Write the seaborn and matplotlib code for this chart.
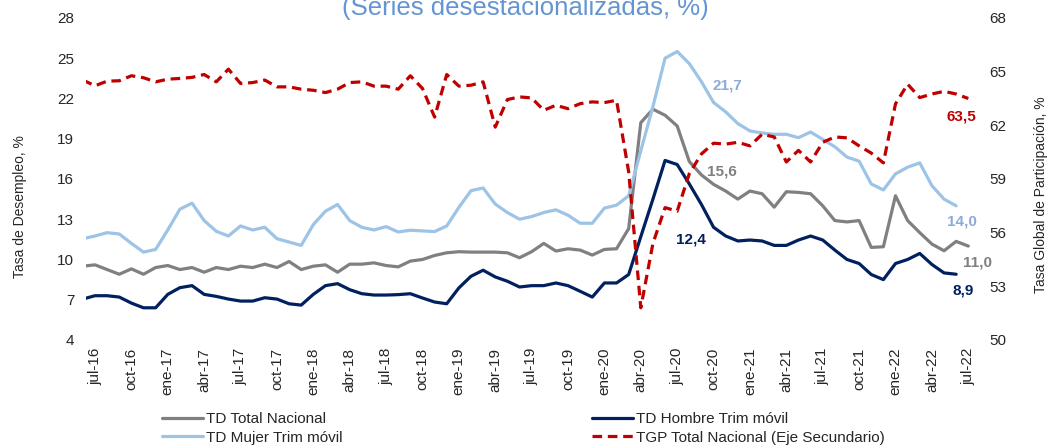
import numpy as np
import matplotlib
matplotlib.use('Agg')
import matplotlib.pyplot as plt
import seaborn as sns

# Monthly series, jun-16 .. jul-22 (trimester series end jun-22)
td_total = [9.5, 9.6, 9.25, 8.9, 9.3, 8.9, 9.4, 9.55, 9.25, 9.4, 9.05, 9.4, 9.25, 9.5,
            9.4, 9.65, 9.4, 9.85, 9.25, 9.5, 9.6, 9.05, 9.65, 9.65, 9.75, 9.55, 9.45,
            9.88, 10.0, 10.3, 10.5, 10.58, 10.55, 10.55, 10.55, 10.5, 10.13, 10.58, 11.2,
            10.63, 10.8, 10.7, 10.33, 10.75, 10.8, 12.3, 20.2, 21.2, 20.75, 19.95, 17.3,
            16.3, 15.6, 15.1, 14.5, 15.1, 14.9, 13.9, 15.05, 15.0, 14.9, 14.0, 12.9, 12.8,
            12.9, 10.9, 10.95, 14.75, 12.9, 12.0, 11.15, 10.65, 11.35, 11.0]
td_mujer = [11.55, 11.75, 12.0, 11.9, 11.2, 10.55, 10.75, 12.2, 13.75, 14.2, 12.9, 12.1,
            11.75, 12.5, 12.2, 12.4, 11.55, 11.3, 11.05, 12.6, 13.6, 14.1, 12.9, 12.4, 12.2,
            12.45, 12.05, 12.18, 12.13, 12.08, 12.5, 13.88, 15.13, 15.33, 14.13, 13.5, 13.0,
            13.2, 13.5, 13.7, 13.3, 12.7, 12.7, 13.83, 14.05, 14.75, 18.1, 21.4, 25.0, 25.5,
            24.6, 23.25, 21.7, 21.0, 20.13, 19.58, 19.43, 19.33, 19.33, 19.08, 19.5, 18.95,
            18.4, 17.63, 17.33, 15.63, 15.18, 16.38, 16.88, 17.2, 15.5, 14.5, 14.0]
td_hombre = [7.05, 7.3, 7.3, 7.2, 6.75, 6.4, 6.4, 7.4, 7.9, 8.05, 7.4, 7.25, 7.05, 6.9,
             6.9, 7.15, 7.05, 6.7, 6.6, 7.4, 8.05, 8.2, 7.75, 7.45, 7.35, 7.35, 7.38, 7.45,
             7.13, 6.83, 6.7, 7.88, 8.75, 9.2, 8.7, 8.38, 7.95, 8.05, 8.05, 8.25, 8.05, 7.63,
             7.2, 8.25, 8.25, 8.88, 11.7, 14.5, 17.38, 17.08, 15.63, 14.1, 12.4, 11.75, 11.38,
             11.45, 11.38, 11.05, 11.05, 11.45, 11.75, 11.45, 10.7, 10.0, 9.7, 8.88, 8.5,
             9.7, 10.0, 10.45, 9.63, 9.0, 8.9]
tgp_total = [64.53, 64.21, 64.47, 64.49, 64.77, 64.66, 64.43, 64.58, 64.62, 64.68, 64.84,
             64.43, 65.14, 64.34, 64.39, 64.53, 64.15, 64.15, 64.02, 63.96, 63.83, 64.02,
             64.39, 64.43, 64.19, 64.19, 64.02, 64.77, 64.06, 62.46, 64.84, 64.19, 64.24,
             64.43, 61.9, 63.44, 63.59, 63.53, 62.84, 63.12, 62.93, 63.21, 63.31, 63.27,
             63.4, 59.4, 51.8, 55.4, 57.4, 57.2, 59.3, 60.4, 61.0, 60.95, 61.05, 60.85, 61.5,
             61.35, 59.95, 60.6, 59.95, 61.05, 61.35, 61.3, 60.85, 60.45, 59.9, 63.2, 64.3,
             63.55, 63.75, 63.9, 63.75, 63.5]
tick_labels = ['jul-16', 'oct-16', 'ene-17', 'abr-17', 'jul-17', 'oct-17', 'ene-18', 'abr-18',
               'jul-18', 'oct-18', 'ene-19', 'abr-19', 'jul-19', 'oct-19', 'ene-20', 'abr-20',
               'jul-20', 'oct-20', 'ene-21', 'abr-21', 'jul-21', 'oct-21', 'ene-22', 'abr-22',
               'jul-22']

c_total, c_mujer, c_hombre, c_tgp = '#808080', '#9DC3E6', '#002060', '#C00000'

sns.set_style('white')
plt.rcParams['font.family'] = ['Liberation Sans', 'DejaVu Sans']

fig = plt.figure(figsize=(10.49, 4.48), dpi=100)
ax = fig.add_axes([0.082, 0.2411, 0.8503, 0.71875])
ax2 = ax.twinx()

# month index: 0 = jul-16 (first value is jun-16)
x_long = np.arange(len(td_total)) - 1
x_short = np.arange(len(td_mujer)) - 1

lw = 2.3
sns.lineplot(x=x_long, y=td_total, ax=ax, color=c_total, linewidth=lw, label='TD Total Nacional', legend=False)
sns.lineplot(x=x_short, y=td_mujer, ax=ax, color=c_mujer, linewidth=lw, label='TD Mujer Trim móvil', legend=False)
sns.lineplot(x=x_short, y=td_hombre, ax=ax, color=c_hombre, linewidth=lw, label='TD Hombre Trim móvil', legend=False)
sns.lineplot(x=x_long, y=tgp_total, ax=ax2, color=c_tgp, linewidth=lw, linestyle=(0, (3, 1.8)),
             label='TGP Total Nacional (Eje Secundario)', legend=False)

ax.set_xlim(-0.74, 72.8)
ax.set_ylim(4, 28)
ax2.set_ylim(50, 68)
ax.set_yticks(np.arange(4, 29, 3))
ax2.set_yticks(np.arange(50, 69, 3))
ax.set_xticks(np.arange(0, 73, 3))
ax.set_xticklabels(tick_labels, rotation=90, fontsize=11)
ax.tick_params(axis='y', labelsize=11, length=0, pad=8.5)
ax.tick_params(axis='x', length=0, pad=5.5)
ax2.tick_params(axis='y', labelsize=11, length=0, pad=8)
for a in (ax, ax2):
    for s in a.spines.values():
        s.set_visible(False)
    a.set_xlabel('')
    a.set_ylabel('')
    a.grid(False)

# end / mid value labels
def tag(a, x, y, txt, col, dx, dy, leader=False):
    a.annotate(txt, xy=(x, y), xytext=(dx, dy), textcoords='offset points',
               ha='center', va='center', fontsize=11, fontweight='bold', color=col,
               arrowprops=dict(arrowstyle='-', color='#A6A6A6', lw=0.8, shrinkA=6, shrinkB=0) if leader else None)

tag(ax, 51, td_mujer[52], '21,7', '#8EAADB', 10, 12.5, leader=True)
tag(ax, 51, td_total[52], '15,6', c_total, 6, 9.6)
tag(ax, 51, td_hombre[52], '12,4', c_hombre, -16, -8.6)
tag(ax2, 72, tgp_total[-1], '63,5', c_tgp, -5, -13, leader=True)
tag(ax, 71, td_mujer[-1], '14,0', '#8EAADB', 4.5, -11)
tag(ax, 72, td_total[-1], '11,0', c_total, 6.5, -11.7)
tag(ax, 71, td_hombre[-1], '8,9', c_hombre, 5, -11.7)

fig.text(525 / 1049, 1 - 15 / 448, '(Series desestacionalizadas, %)', ha='center', va='baseline',
         fontsize=18.5, color='#6495D2')
fig.text(20 / 1049, 1 - 207 / 448, 'Tasa de Desempleo, %', rotation=90, ha='center', va='center', fontsize=10)
fig.text(1041 / 1049, 1 - 195 / 448, 'Tasa Global de Participación, %', rotation=90, ha='center',
         va='center', fontsize=10)

h = ax.get_lines() + ax2.get_lines()
leg_kw = dict(loc='upper left', frameon=False, fontsize=11, handlelength=2.7, handletextpad=0.15,
              labelspacing=0.3, borderpad=0, borderaxespad=0)
fig.legend([h[0], h[1]], [l.get_label() for l in (h[0], h[1])], bbox_to_anchor=(162 / 1049, 1 - 412 / 448), **leg_kw)
fig.legend([h[2], h[3]], [l.get_label() for l in (h[2], h[3])], bbox_to_anchor=(592 / 1049, 1 - 412 / 448), **leg_kw)

fig.savefig('out.png', dpi=100)
